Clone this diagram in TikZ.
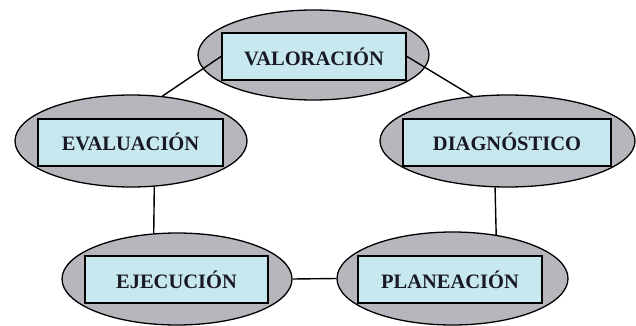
\documentclass[tikz,border=0pt]{standalone}
\usepackage{fontspec}
\setmainfont{Liberation Serif}
\usepackage{tikz}
\usetikzlibrary{positioning,calc}
\usetikzlibrary{shapes}
\definecolor{grisE}{RGB}{182,182,188}
\definecolor{celeste}{RGB}{200,232,240}
\definecolor{tinta}{RGB}{25,25,35}
\tikzset{
  fase/.style = {ellipse, draw=black, line width=1.3pt, fill=grisE, inner sep=0pt},
  etiqueta/.style = {rectangle, draw=black, line width=2pt, fill=celeste, inner sep=0pt,
    minimum height=47pt, text=tinta, font=\fontsize{20.5}{22}\selectfont\bfseries},
  enlace/.style = {draw=black, line width=1.4pt}
}

\begin{document}
\begin{tikzpicture}[x=1pt,y=-1pt]
    \useasboundingbox (0,0) rectangle (636,326);
    % elipses
    \node[fase, minimum width=231pt, minimum height=90pt] (val) at (313.5,55) {};
    \node[fase, minimum width=232pt, minimum height=92pt] (eval) at (131,141) {};
    \node[fase, minimum width=255pt, minimum height=92pt] (diag) at (507.5,141) {};
    \node[fase, minimum width=230pt, minimum height=92pt] (ejec) at (177,279) {};
    \node[fase, minimum width=231pt, minimum height=93pt] (plan) at (452.5,278.5) {};
    % recuadros
    \node[etiqueta, minimum width=184pt] (valoracion) at (314,56.5) {VALORACIÓN};
    \node[etiqueta, minimum width=185pt] (evaluacion) at (130.5,142) {EVALUACIÓN};
    \node[etiqueta, minimum width=208pt] (diagnostico) at (507,142) {DIAGNÓSTICO};
    \node[etiqueta, minimum width=183pt] (ejecucion) at (176.5,279.5) {EJECUCIÓN};
    \node[etiqueta, minimum width=184pt] (planeacion) at (450,279.5) {PLANEACIÓN};
    % enlaces
    \draw[enlace] (valoracion.west) -- (eval.55);
    \draw[enlace] (valoracion.east) -- (diag.128);
    \draw[enlace] (eval.-63) -- (ejec.117);
    \draw[enlace] (diag.-105) -- (plan.45.5);
    \draw[enlace] (ejec.east) -- (plan.west);
\end{tikzpicture}
\end{document}
